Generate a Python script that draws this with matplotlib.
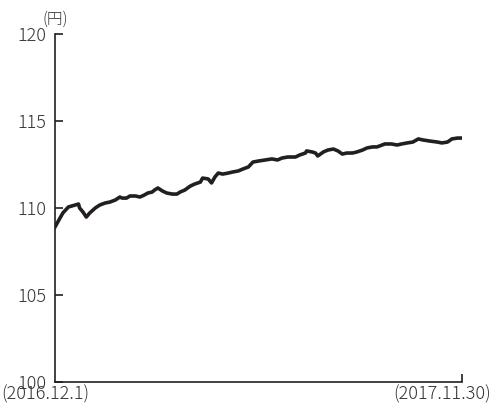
import numpy as np
import matplotlib
matplotlib.use("Agg")
import matplotlib.pyplot as plt

plt.rcParams['font.family'] = ['Noto Sans CJK JP', 'DejaVu Sans']

# days after 2016-12-01 and the value (yen)
days = [0, 7, 12, 18, 21, 22, 25, 28, 31, 36, 40, 45, 49, 54, 58, 60, 64, 67,
        72, 76, 80, 83, 87, 89, 92, 96, 100, 105, 109, 112, 116, 121, 125, 130,
        132, 137, 140, 143, 146, 150, 155, 159, 164, 168, 173, 177, 182, 188,
        194, 199, 203, 208, 215, 219, 224, 225, 230, 233, 235, 240, 244, 249,
        253, 257, 261, 266, 270, 275, 279, 284, 288, 295, 301, 306, 310, 315,
        320, 325, 329, 335, 342, 346, 351, 355, 360, 364]
values = [108.91, 109.71, 110.06, 110.17, 110.23, 110.0, 109.77, 109.48, 109.71,
          110.0, 110.17, 110.29, 110.34, 110.46, 110.63, 110.57, 110.57, 110.69,
          110.69, 110.63, 110.75, 110.86, 110.92, 111.03, 111.15, 110.98, 110.86,
          110.80, 110.80, 110.92, 111.03, 111.26, 111.38, 111.49, 111.72, 111.67,
          111.44, 111.78, 112.01, 111.95, 112.01, 112.07, 112.13, 112.24, 112.36,
          112.64, 112.70, 112.76, 112.82, 112.76, 112.87, 112.93, 112.93, 113.05,
          113.16, 113.28, 113.22, 113.16, 112.99, 113.22, 113.33, 113.39, 113.28,
          113.10, 113.16, 113.16, 113.22, 113.33, 113.45, 113.51, 113.51, 113.68,
          113.68, 113.62, 113.68, 113.74, 113.79, 113.97, 113.91, 113.85, 113.79,
          113.74, 113.79, 113.97, 114.02, 114.02]
y_ticks = [100, 105, 110, 115, 120]
x_labels = ["(2016.12.1)", "(2017.11.30)"]

ink = '#231f20'
text_c = '#333333'

fig = plt.figure(figsize=(4.92, 4.08), dpi=100)
ax = fig.add_axes([55 / 492, 26 / 408, 407 / 492, 348 / 408])

ax.plot(days, values, color=ink, lw=2.6, solid_joinstyle='round')

ax.set_xlim(0, 364)
ax.set_ylim(100, 120)
ax.set_yticks(y_ticks)
ax.set_yticklabels([str(t) for t in y_ticks], color=text_c, fontsize=13,
                   fontweight='light')
ax.set_xticks([364])
ax.set_xticklabels([])

for side in ['top', 'right']:
    ax.spines[side].set_visible(False)
for side in ['left', 'bottom']:
    ax.spines[side].set_linewidth(1.2)
    ax.spines[side].set_color(ink)
ax.tick_params(axis='y', direction='in', length=6, width=1.2, color=ink, pad=6)
ax.tick_params(axis='x', direction='in', length=6, width=1.2, color=ink)

# date labels sit just under the axis, as in the original
fig.text(1 / 492, 1 - 394 / 408, x_labels[0], ha='left', va='center',
         color=text_c, fontsize=13, fontweight='light')
fig.text(491 / 492, 1 - 394 / 408, x_labels[1], ha='right', va='center',
         color=text_c, fontsize=13, fontweight='light')
fig.text(55 / 492, 1 - 19 / 408, "(円)", ha='center', va='center',
         color=text_c, fontsize=11.3, fontweight='light')

fig.savefig("out.png", dpi=100)
